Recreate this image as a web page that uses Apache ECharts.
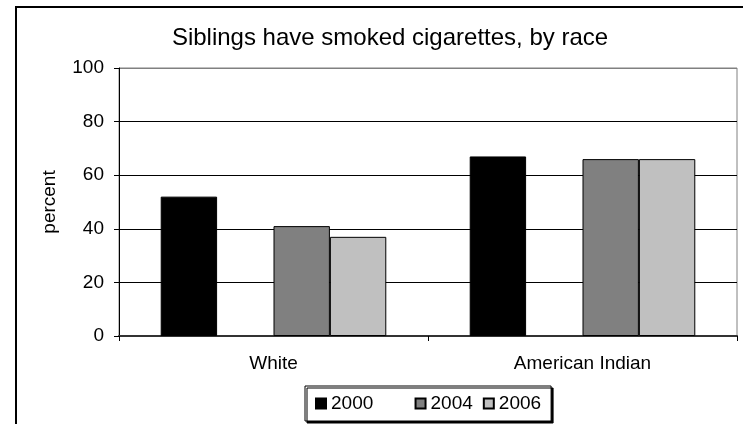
<!DOCTYPE html>
<html>
<head>
<meta charset="utf-8">
<script src="https://cdn.jsdelivr.net/npm/echarts@6/dist/echarts.min.js"></script>
<style>
html,body{margin:0;padding:0;background:#fff;}
#chart{width:743px;height:424px;}
</style>
</head>
<body>
<div id="chart"></div>
<script>
var categories = ['White', 'American Indian'];
var seriesNames = ['2000', ' ', '2004', '2006'];
var values2000 = [52, 67];
var valuesBlank = [null, null];
var values2004 = [41, 66];
var values2006 = [37, 66];
var seriesColors = ['#000000', 'transparent', '#808080', '#C0C0C0'];
var yTicks = [0, 20, 40, 60, 80, 100];

var allValues = [values2000, valuesBlank, values2004, values2006];
var FONT = 'Liberation Sans, Arial, sans-serif';

var chart = echarts.init(document.getElementById('chart'), null, {renderer: 'canvas'});

var series = seriesNames.map(function (name, i) {
  return {
    name: name,
    type: 'bar',
    data: allValues[i],
    barGap: '0%',
    barCategoryGap: '27%',
    itemStyle: {
      color: seriesColors[i],
      borderColor: i === 1 ? 'transparent' : '#000',
      borderWidth: 1
    },
    emphasis: {disabled: true}
  };
});

chart.setOption({
  animation: false,
  backgroundColor: '#fff',
  textStyle: {fontFamily: FONT},
  graphic: [{
    type: 'rect',
    shape: {x: 16, y: 7, width: 800, height: 500},
    style: {fill: 'none', stroke: '#000', lineWidth: 2},
    silent: true,
    z: -1
  }],
  title: {
    text: 'Siblings have smoked cigarettes, by race',
    left: 385,
    textAlign: 'center',
    top: 21,
    textStyle: {fontFamily: FONT, fontSize: 24, fontWeight: 'normal', color: '#000'}
  },
  legend: {
    left: 305,
    top: 386,
    orient: 'horizontal',
    data: seriesNames.map(function (n) { return {name: n, icon: 'rect'}; }),
    itemWidth: 10,
    itemHeight: 10,
    itemGap: 10,
    padding: [8, 10, 8, 10],
    borderColor: '#000',
    borderWidth: 1,
    backgroundColor: '#fff',
    shadowColor: '#000',
    shadowOffsetX: 2,
    shadowOffsetY: 2,
    shadowBlur: 0,
    selectedMode: false,
    textStyle: {fontFamily: FONT, fontSize: 19, color: '#000'}
  },
  grid: {
    left: 119,
    right: 6,
    top: 68,
    bottom: 88,
    show: true,
    borderColor: '#808080',
    borderWidth: 1,
    backgroundColor: 'transparent'
  },
  xAxis: {
    type: 'category',
    data: categories,
    axisLine: {lineStyle: {color: '#333', width: 2}},
    axisTick: {show: true, length: 5, interval: 0, lineStyle: {color: '#000'}},
    axisLabel: {fontFamily: FONT, fontSize: 19, color: '#000', margin: 18}
  },
  yAxis: {
    type: 'value',
    min: yTicks[0],
    max: yTicks[yTicks.length - 1],
    interval: 20,
    name: 'percent',
    nameLocation: 'middle',
    nameGap: 60,
    nameRotate: 90,
    nameTextStyle: {fontFamily: FONT, fontSize: 19, color: '#000'},
    axisLine: {show: true, lineStyle: {color: '#000', width: 1}},
    axisTick: {show: true, length: 5, lineStyle: {color: '#000'}},
    axisLabel: {fontFamily: FONT, fontSize: 19, color: '#000', margin: 15},
    splitLine: {show: true, lineStyle: {color: ['#000', '#000', '#000', '#000', '#000', '#808080'], width: 1}}
  },
  tooltip: {show: false},
  series: series
});
</script>
</body>
</html>
